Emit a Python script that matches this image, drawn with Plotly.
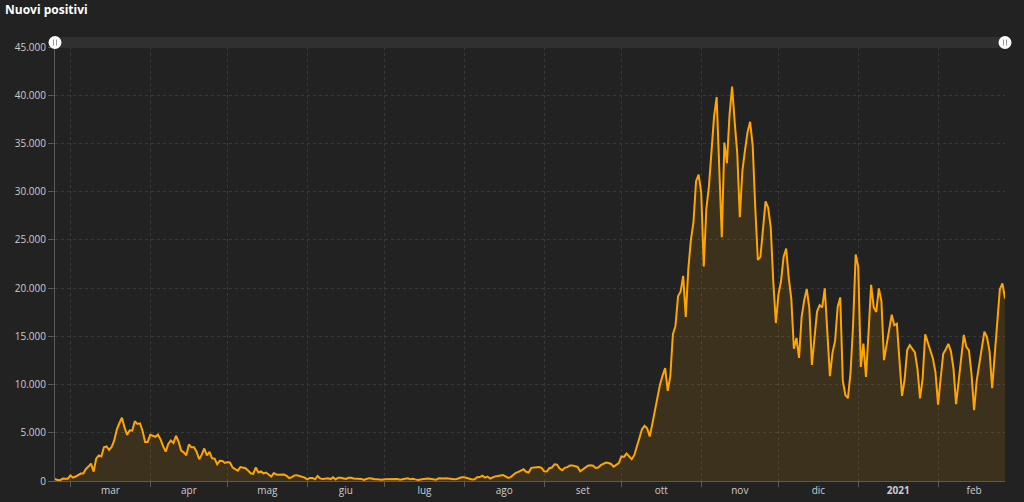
import pandas as pd
import plotly.graph_objects as go

# Daily new positives (Italy), 24 Feb 2020 -> 27 Feb 2021
feb_2020 = [221, 93, 78, 250, 238, 240]
mar_2020 = [566, 342, 466, 587, 769, 778, 1247, 1492, 1797, 977, 2313, 2651, 2547, 3497, 3590, 3233,
            3526, 4207, 5322, 5986, 6557, 5560, 4789, 5249, 5210, 6203, 5909, 5974, 5217, 4050, 4053]
apr_2020 = [4782, 4668, 4585, 4805, 4316, 3599, 3039, 3836, 4204, 3951, 4694, 4092, 3153, 2972, 2667,
            3786, 3493, 3491, 3047, 2256, 2729, 3370, 2646, 3021, 2357, 2324, 1739, 2091, 2086, 1872]
may_2020 = [1965, 1900, 1389, 1221, 1075, 1444, 1401, 1327, 1083, 802, 744, 1402, 888, 992, 789, 875,
            675, 451, 813, 665, 642, 652, 669, 531, 300, 397, 584, 593, 516, 416, 355]
jun_2020 = [178, 318, 321, 177, 518, 270, 197, 280, 283, 202, 379, 163, 346, 338, 301, 210, 329, 333,
            251, 262, 224, 218, 122, 190, 296, 259, 175, 174, 126, 142]
jul_2020 = [187, 201, 223, 235, 192, 208, 138, 193, 229, 276, 188, 234, 169, 114, 162, 230, 233, 249,
            219, 190, 129, 282, 306, 252, 275, 255, 170, 181, 212, 289, 386]
aug_2020 = [379, 295, 239, 159, 190, 384, 402, 552, 347, 463, 259, 412, 481, 523, 574, 629, 479, 320,
            403, 642, 845, 947, 1071, 1210, 953, 878, 1367, 1411, 1460, 1444, 1365]
sep_2020 = [996, 978, 1326, 1397, 1733, 1695, 1297, 1108, 1370, 1434, 1597, 1616, 1501, 1458, 1008,
            1229, 1452, 1585, 1638, 1587, 1350, 1392, 1640, 1786, 1912, 1869, 1766, 1494, 1648, 1851]
oct_2020 = [2548, 2499, 2844, 2578, 2257, 2677, 3678, 4458, 5372, 5724, 5456, 4619, 5901, 7332, 8804,
            10010, 10925, 11705, 9338, 10874, 15199, 16079, 19143, 19644, 21273, 17012, 21994, 24991,
            26831, 31084, 31758]
nov_2020 = [29907, 22253, 28244, 30550, 34505, 37809, 39811, 32616, 25271, 35098, 32961, 37978, 40902,
            37255, 33979, 27354, 32191, 34283, 36176, 37242, 34767, 28337, 22930, 23232, 25853, 29003,
            28352, 26323, 20648, 16377]
dec_2020 = [19350, 20709, 23225, 24099, 21052, 18887, 13720, 14842, 12756, 16999, 18727, 19903, 17938,
            12030, 14844, 17572, 18236, 17992, 19974, 15104, 10872, 13318, 14522, 18040, 19037, 10407,
            8913, 8585, 11212, 16202, 23477]
jan_2021 = [22211, 11831, 14245, 10800, 15378, 20331, 18020, 17533, 19978, 18627, 12532, 14242, 15774,
            17246, 16146, 16310, 12545, 8824, 10497, 13571, 14078, 13633, 13331, 11629, 8561, 10593,
            15204, 14372, 13574, 12715, 11252]
feb_2021 = [7925, 10630, 13189, 13659, 14218, 13442, 11641, 7970, 10404, 12956, 15146, 13908, 13532,
            11068, 7351, 10386, 12074, 13762, 15479, 14931, 13452, 9630, 13314, 16424, 19886, 20499, 18916]

values = (feb_2020 + mar_2020 + apr_2020 + may_2020 + jun_2020 + jul_2020 + aug_2020 + sep_2020
          + oct_2020 + nov_2020 + dec_2020 + jan_2021 + feb_2021)
start_date = "2020-02-24"
dates = pd.date_range(start_date, periods=len(values), freq="D")

month_starts = pd.date_range("2020-03-01", "2021-02-01", freq="MS")
month_labels = ["mar", "apr", "mag", "giu", "lug", "ago", "set", "ott", "nov", "dic", "<b>2021</b>", "feb"]
month_mids = [m + (m + pd.offsets.MonthBegin(1) - m) / 2 for m in month_starts]

y_ticks = [0, 5000, 10000, 15000, 20000, 25000, 30000, 35000, 40000, 45000]

BG = "#222222"
GRID = "#383838"
AXIS = "#5a5a5a"
LINE = "#ffa500"

fig = go.Figure()
fig.add_trace(go.Scatter(
    x=dates, y=values, mode="lines",
    line=dict(color=LINE, width=2),
    fill="tozeroy", fillcolor="rgba(255,165,0,0.12)",
    hoverinfo="x+y", showlegend=False,
))

fig.update_layout(
    width=1024, height=502,
    margin=dict(l=55, r=19, t=47, b=21, autoexpand=False),
    paper_bgcolor=BG, plot_bgcolor=BG,
    separators=",.",
    font=dict(family="Open Sans, DejaVu Sans, sans-serif", color="#cccccc", size=10),
    title=dict(text="<b>Nuovi positivi</b>", x=5 / 1024, xref="container", xanchor="left",
               y=1 - 10 / 502, yref="container", yanchor="middle",
               font=dict(size=12, color="#ffffff")),
    xaxis=dict(
        type="date", automargin=False,
        range=[dates[0], dates[-1]],
        tickmode="array", tickvals=month_mids, ticktext=month_labels,
        ticks="", showgrid=False, zeroline=False,
        showline=True, linecolor=AXIS, linewidth=1,
        tickfont=dict(size=10, color="#cccccc"),
        minor=dict(tickmode="array", tickvals=list(month_starts), ticks="outside", ticklen=5,
                   tickcolor=AXIS, showgrid=True, gridcolor=GRID, griddash="3px,3px", gridwidth=1),
        fixedrange=True,
    ),
    yaxis=dict(
        automargin=False,
        range=[0, 45000], tickmode="array", tickvals=y_ticks, tickformat=",d",
        showgrid=True, gridcolor=GRID, griddash="3px,3px", gridwidth=1,
        zeroline=False, showline=True, linecolor=AXIS, linewidth=1,
        ticks="outside", ticklen=6, tickcolor=AXIS,
        tickfont=dict(size=10, color="#cccccc"),
        fixedrange=True,
    ),
    shapes=[
        # scrollbar track
        dict(type="rect", xref="paper", x0=0, x1=1, yref="paper", ysizemode="pixel", yanchor=1,
             y0=-1, y1=10, fillcolor="#303030", line=dict(width=0), layer="above"),
        # left grip
        dict(type="circle", xref="paper", xsizemode="pixel", xanchor=0, x0=-6.5, x1=6.5,
             yref="paper", ysizemode="pixel", yanchor=1, y0=-2, y1=11,
             fillcolor="#ffffff", line=dict(width=0), layer="above"),
        dict(type="line", xref="paper", xsizemode="pixel", xanchor=0, x0=-1.5, x1=-1.5,
             yref="paper", ysizemode="pixel", yanchor=1, y0=1.5, y1=7.5,
             line=dict(color="#999999", width=1), layer="above"),
        dict(type="line", xref="paper", xsizemode="pixel", xanchor=0, x0=1.5, x1=1.5,
             yref="paper", ysizemode="pixel", yanchor=1, y0=1.5, y1=7.5,
             line=dict(color="#999999", width=1), layer="above"),
        # right grip
        dict(type="circle", xref="paper", xsizemode="pixel", xanchor=1, x0=-6.5, x1=6.5,
             yref="paper", ysizemode="pixel", yanchor=1, y0=-2, y1=11,
             fillcolor="#ffffff", line=dict(width=0), layer="above"),
        dict(type="line", xref="paper", xsizemode="pixel", xanchor=1, x0=-1.5, x1=-1.5,
             yref="paper", ysizemode="pixel", yanchor=1, y0=1.5, y1=7.5,
             line=dict(color="#999999", width=1), layer="above"),
        dict(type="line", xref="paper", xsizemode="pixel", xanchor=1, x0=1.5, x1=1.5,
             yref="paper", ysizemode="pixel", yanchor=1, y0=1.5, y1=7.5,
             line=dict(color="#999999", width=1), layer="above"),
    ],
)

fig.write_html(
    "out.html",
    config={"displayModeBar": False},
    post_script="document.body.style.margin='0';document.body.style.overflow='hidden';document.body.style.background='#222222';",
)
